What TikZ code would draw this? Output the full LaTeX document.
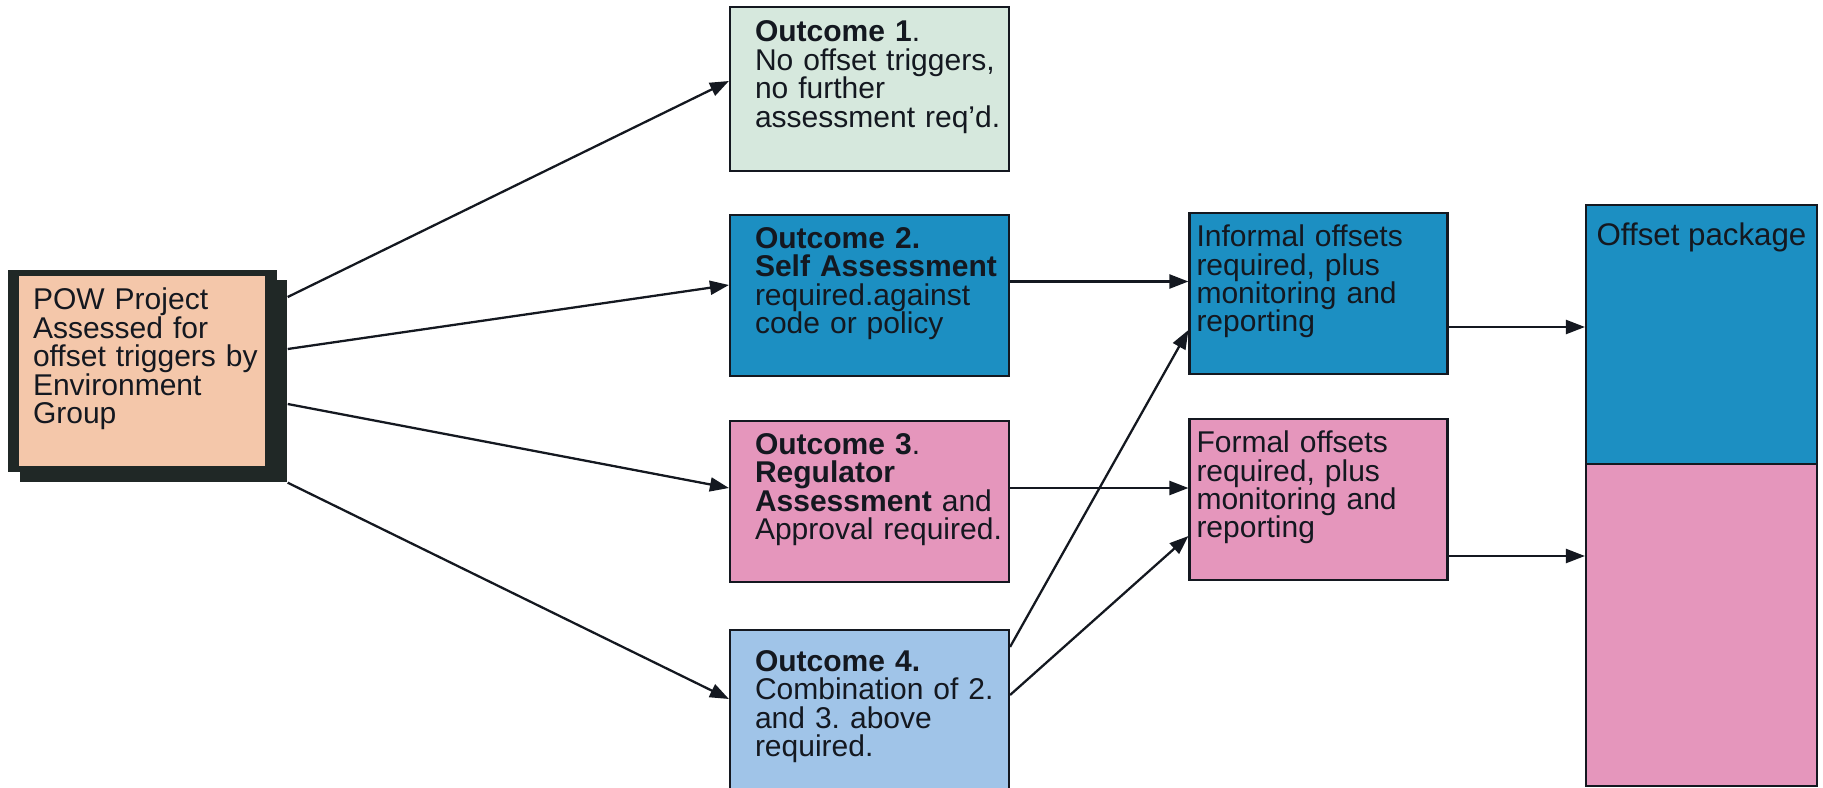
\documentclass[tikz,border=0pt]{standalone}
\usepackage{fontspec}
\setmainfont{Liberation Sans}
\usetikzlibrary{arrows.meta}
\definecolor{peach}{RGB}{244,199,170}
\definecolor{mint}{RGB}{214,232,221}
\definecolor{selfblue}{RGB}{28,143,194}
\definecolor{regpink}{RGB}{229,150,188}
\definecolor{combblue}{RGB}{160,196,232}
\definecolor{framegrey}{RGB}{32,40,38}
\definecolor{inkdark}{RGB}{20,24,32}

\begin{document}
\begin{tikzpicture}[
    box/.style={draw=inkdark,line width=0.6pt,minimum width=2.79cm,minimum height=1.61cm,
      text width=2.55cm,inner xsep=0.12cm,align=left,text=inkdark,
      font=\fontsize{8.54}{8.1}\selectfont,
      execute at end node={\endgraf\vspace*{0.24cm}}},
    textpad/.style={execute at begin node={\leftskip=#1\rightskip=-0.15cm plus 1fil}},
    outbox/.style={box,textpad=0.13cm},
    arr/.style={-{Triangle[length=0.19cm,width=0.14cm]},line width=0.65pt,draw=inkdark}
  ]
    \useasboundingbox (0,0) rectangle (18.23,7.87);
    % Project box with its two dark frames
    \node[fill=framegrey,minimum width=2.69cm,minimum height=2.02cm] (powshade) at (1.425,4.16) {};
    \node[fill=framegrey,minimum width=2.67cm,minimum height=2.02cm] (powbg) at (1.535,4.06) {};
    \node[box,fill=peach,draw=none,minimum width=2.46cm,minimum height=1.80cm,text width=2.30cm,
      inner xsep=0.08cm,textpad=0.06cm] (pow) at (1.42,4.16)
      {POW Project\\Assessed for\\offset triggers by\\Environment\\Group};
    % Outcomes
    \node[outbox,fill=mint,minimum height=1.64cm] (o1) at (8.695,6.98)
      {\textbf{Outcome 1}.\\No offset triggers,\\no further\\assessment req'd.};
    \node[outbox,fill=selfblue] (o2) at (8.695,4.915)
      {\textbf{Outcome 2.}\\\textbf{Self Assessment}\\required.against\\code or policy};
    \node[outbox,fill=regpink] (o3) at (8.695,2.855)
      {\textbf{Outcome 3}.\\\textbf{Regulator}\\\textbf{Assessment} and\\Approval required.};
    \node[outbox,fill=combblue,minimum height=1.77cm] (o4) at (8.695,0.685)
      {\textbf{Outcome 4.}\\Combination of 2.\\and 3.\ above\\required.};
    % Offsets
    \node[box,fill=selfblue,minimum width=2.58cm,text width=2.44cm,inner xsep=0.07cm] (inf) at (13.185,4.935)
      {Informal offsets\\required, plus\\monitoring and\\reporting};
    \node[box,fill=regpink,minimum width=2.58cm,text width=2.44cm,inner xsep=0.07cm] (frm) at (13.185,2.875)
      {Formal offsets\\required, plus\\monitoring and\\reporting};
    % Offset package
    \node[draw=inkdark,fill=selfblue,line width=0.6pt,minimum width=2.31cm,minimum height=2.59cm] (pkgtop) at (17.015,4.525) {};
    \node[draw=inkdark,fill=regpink,line width=0.6pt,minimum width=2.31cm,minimum height=3.22cm] (pkgbot) at (17.015,1.62) {};
    \node[anchor=north,text=inkdark,font=\fontsize{8.9}{8.9}\selectfont] (pkglabel) at ([yshift=-0.06cm]pkgtop.north) {Offset package};
    % Arrows from the project
    \draw[arr] ([yshift=0.84cm]powbg.east) -- ([yshift=0.08cm]o1.west);
    \draw[arr] ([yshift=0.32cm]powbg.east) -- ([yshift=0.105cm]o2.west);
    \draw[arr] ([yshift=-0.23cm]powbg.east) -- ([yshift=0.135cm]o3.west);
    \draw[arr] (powbg.south east) -- ([yshift=0.195cm]o4.west);
    % Arrows to the offsets
    \draw[arr] ([yshift=0.14cm]o2.east) -- ([yshift=0.14cm]o2.east -| inf.west);
    \draw[arr] ([yshift=0.135cm]o3.east) -- ([yshift=0.135cm]o3.east -| frm.west);
    \draw[arr] ([yshift=-0.18cm]o4.north east) -- ([yshift=-0.365cm]inf.west);
    \draw[arr] ([yshift=0.235cm]o4.east) -- ([yshift=-0.365cm]frm.west);
    % Arrows to the package
    \draw[arr] ([yshift=-0.335cm]inf.east) -- ([yshift=-0.335cm]inf.east -| pkgtop.west);
    \draw[arr] ([yshift=-0.565cm]frm.east) -- ([yshift=-0.565cm]frm.east -| pkgbot.west);
\end{tikzpicture}
\end{document}
